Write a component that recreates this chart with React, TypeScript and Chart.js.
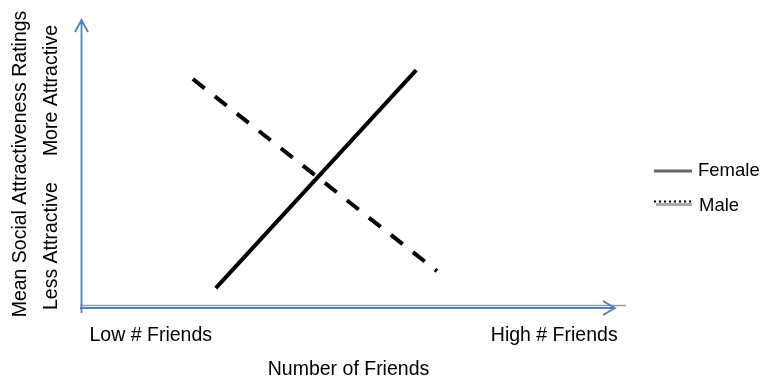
import React, { useEffect, useRef } from "react";
import { Chart, registerables } from "chart.js";

Chart.register(...registerables);

// ---- data ----
const seriesNames = ["Female", "Male"];
const femaleX = [2.51, 6.27];
const femaleY = [0.69, 8.26];
const maleX = [2.08, 6.66];
const maleY = [7.95, 1.28];
const xTickValues = [1.29, 8.86];
const xTickLabels = ["Low # Friends", "High # Friends"];
const yTickValues = [2.15, 7.55];
const yTickLabels = ["Less Attractive", "More Attractive"];
const xTitle = "Number of Friends";
const yTitle = "Mean Social Attractiveness Ratings";

const FONT = "'Liberation Sans', Arial, sans-serif";
const BLUE = "#4f81bd";

const axesPlugin = {
  id: "arrowAxes",
  beforeDatasetsDraw(chart: any) {
    const { ctx, chartArea } = chart;
    const { left, right, top, bottom } = chartArea;
    ctx.save();
    // gray baseline
    ctx.strokeStyle = "#9a9a9a";
    ctx.lineWidth = 1.5;
    ctx.beginPath();
    ctx.moveTo(left - 2, bottom - 2.5);
    ctx.lineTo(right + 11, bottom - 2.5);
    ctx.stroke();
    // blue arrows
    ctx.strokeStyle = BLUE;
    ctx.lineWidth = 1.8;
    ctx.lineCap = "butt";
    ctx.beginPath();
    ctx.moveTo(left - 0.5, bottom + 5);
    ctx.lineTo(left - 0.5, top);
    ctx.moveTo(left - 7, top + 12);
    ctx.lineTo(left - 0.5, top);
    ctx.lineTo(left + 6, top + 12);
    ctx.stroke();
    ctx.beginPath();
    ctx.moveTo(left - 2, bottom);
    ctx.lineTo(right, bottom);
    ctx.moveTo(right - 12, bottom - 7);
    ctx.lineTo(right, bottom);
    ctx.lineTo(right - 12, bottom + 7);
    ctx.stroke();
    ctx.restore();
  },
  afterDraw(chart: any) {
    const { ctx, chartArea, scales } = chart;
    const yScale = scales.y;
    ctx.save();
    ctx.fillStyle = "#000";
    ctx.font = `19.5px ${FONT}`;
    ctx.textAlign = "center";
    ctx.textBaseline = "middle";
    yTickValues.forEach((v, i) => {
      const py = yScale.getPixelForValue(v);
      ctx.save();
      ctx.translate(chartArea.left - 30, py);
      ctx.rotate(-Math.PI / 2);
      ctx.fillText(yTickLabels[i], 0, 0);
      ctx.restore();
    });

    // legend
    const lx = chartArea.right + 39;
    const fy = 171;
    const my = 204.5;
    ctx.lineCap = "butt";
    ctx.strokeStyle = "#666";
    ctx.lineWidth = 3;
    ctx.beginPath();
    ctx.moveTo(lx, fy);
    ctx.lineTo(lx + 38, fy);
    ctx.stroke();
    ctx.strokeStyle = "#aaa";
    ctx.beginPath();
    ctx.moveTo(lx + 2, my);
    ctx.lineTo(lx + 38, my);
    ctx.stroke();
    ctx.fillStyle = "#000";
    for (let x = lx; x <= lx + 35; x += 5) {
      ctx.fillRect(x, my - 4, 2, 2);
    }
    ctx.font = `18.5px ${FONT}`;
    ctx.textAlign = "left";
    ctx.textBaseline = "middle";
    ctx.fillText(seriesNames[0], lx + 44, fy - 0.5);
    ctx.fillText(seriesNames[1], lx + 45, my + 1);
    ctx.restore();
  },
};

export default function App() {
  const ref = useRef<HTMLCanvasElement | null>(null);
  useEffect(() => {
    if (!ref.current) return;
    const chart = new Chart(ref.current, {
      type: "line",
      data: {
        datasets: [
          {
            label: seriesNames[0],
            data: femaleX.map((x, i) => ({ x, y: femaleY[i] })),
            borderColor: "#000",
            borderWidth: 4,
            pointRadius: 0,
            borderCapStyle: "butt",
            tension: 0,
          },
          {
            label: seriesNames[1],
            data: maleX.map((x, i) => ({ x, y: maleY[i] })),
            borderColor: "#000",
            borderWidth: 4,
            borderDash: [15, 13],
            pointRadius: 0,
            borderCapStyle: "butt",
            tension: 0,
          },
        ],
      },
      plugins: [axesPlugin],
      options: {
        animation: false,
        responsive: false,
        layout: { padding: { top: 20, right: 146, left: 0, bottom: 0 } },
        plugins: { legend: { display: false }, tooltip: { enabled: false } },
        scales: {
          x: {
            type: "linear",
            min: 0,
            max: 10,
            position: "bottom",
            grid: { display: false, drawTicks: false },
            border: { display: false },
            afterBuildTicks: (s: any) => {
              s.ticks = xTickValues.map((v) => ({ value: v }));
            },
            ticks: {
              autoSkip: false,
              maxRotation: 0,
              padding: 16,
              color: "#000",
              font: { family: FONT, size: 19.5 },
              callback: (v: any) => {
                const i = xTickValues.findIndex((t) => Math.abs(t - v) < 1e-6);
                return i >= 0 ? xTickLabels[i] : "";
              },
            },
            title: {
              display: true,
              text: xTitle,
              color: "#000",
              font: { family: FONT, size: 19.5, lineHeight: 0.8 },
              padding: { top: 0, bottom: 0 },
            },
            afterFit: (s: any) => {
              s.height = 69;
            },
          },
          y: {
            type: "linear",
            min: 0,
            max: 10,
            position: "left",
            grid: { display: false, drawTicks: false },
            border: { display: false },
            ticks: { display: false },
            title: {
              display: true,
              text: yTitle,
              color: "#000",
              font: { family: FONT, size: 19.5, lineHeight: 1.2 },
              padding: { top: 9, bottom: 0 },
            },
            afterFit: (s: any) => {
              s.width = 82;
            },
          },
        },
      },
    } as any);
    return () => chart.destroy();
  }, []);
  return (
    <div style={{ position: "absolute", left: 0, top: 0, width: 761, height: 377, background: "#fff" }}>
      <canvas ref={ref} width={761} height={377} />
    </div>
  );
}
